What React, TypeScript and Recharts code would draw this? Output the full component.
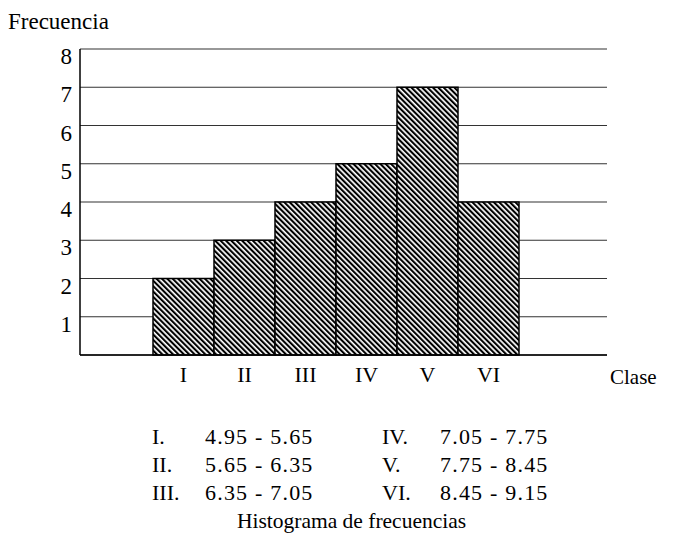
import React from 'react';
import { BarChart, Bar, XAxis, YAxis, CartesianGrid } from 'recharts';

const clases = ['I', 'II', 'III', 'IV', 'V', 'VI'];
const frecuencias = [2, 3, 4, 5, 7, 4];
const yTicks = [1, 2, 3, 4, 5, 6, 7, 8];
const etiquetas = ['I.', 'II.', 'III.', 'IV.', 'V.', 'VI.'];
const intervalos = ['4.95 - 5.65', '5.65 - 6.35', '6.35 - 7.05', '7.05 - 7.75', '7.75 - 8.45', '8.45 - 9.15'];

const data = clases.map((c, i) => ({ clase: c, frecuencia: frecuencias[i] }));

const SERIF = '"Liberation Serif", "DejaVu Serif", serif';

const YTick = (props: any) => {
  const { x, y, payload } = props;
  return <text x={x} y={y} dy={15} textAnchor="end" fontFamily={SERIF} fontSize={23} fill="#000">
      {payload.value}
    </text>;
};

const XTick = (props: any) => {
  const { x, y, payload } = props;
  return <text x={x} y={y} dy={19} textAnchor="middle" fontFamily={SERIF} fontSize={22} fill="#000">
      {payload.value}
    </text>;
};

const App = () => {
  const rowStyle: React.CSSProperties = { position: 'absolute', fontFamily: SERIF, fontSize: 22, color: '#000', whiteSpace: 'nowrap', lineHeight: '26px' };
  return <div style={{ position: 'absolute', left: 0, top: 0, width: 674, height: 547, background: '#fff' }}>
      <svg width={0} height={0} style={{ position: 'absolute' }}>
        <defs>
          <pattern id="hatch" patternUnits="userSpaceOnUse" width={3.8} height={3.8} patternTransform="rotate(-45)">
            <rect width={3.8} height={3.8} fill="#fff" />
            <rect width={2.1} height={3.8} fill="#000" />
          </pattern>
        </defs>
      </svg>
      <div style={{ ...rowStyle, left: 8, top: 9, fontSize: 23 }}>Frecuencia</div>
      <div style={{ position: 'absolute', left: 0, top: 0 }}>
        <BarChart width={674} height={400} data={data} margin={{ top: 49, right: 67, bottom: 15, left: 0 }} barCategoryGap={0}>
          <CartesianGrid vertical={false} stroke="#333" strokeWidth={1.2} yAxisId="l" />
          <XAxis dataKey="clase" height={30} padding={{ left: 73, right: 88 }} tickLine={false} axisLine={{ stroke: '#000', strokeWidth: 1.5 }} tick={<XTick />} interval={0} />
          <YAxis yAxisId="l" width={80} domain={[0, 8]} ticks={yTicks} tickLine={false} axisLine={{ stroke: '#000', strokeWidth: 1.5 }} tick={<YTick />} />
          <YAxis yAxisId="r" orientation="right" width={0} domain={[0, 8]} tick={false} tickLine={false} axisLine={{ stroke: '#111', strokeWidth: 1.2 }} />
          <Bar yAxisId="l" dataKey="frecuencia" fill="url(#hatch)" stroke="#000" strokeWidth={1.5} isAnimationActive={false} />
        </BarChart>
      </div>
      <div style={{ ...rowStyle, left: 610, top: 364, fontSize: 21 }}>Clase</div>
      {etiquetas.map((e, i) => {
      const col = Math.floor(i / 3);
      const row = i % 3;
      const top = 424 + row * 28;
      return <React.Fragment key={e}>
            <div style={{ ...rowStyle, left: col === 0 ? 152 : 382, top }}>{e}</div>
            <div style={{ ...rowStyle, left: col === 0 ? 205 : 440, top, letterSpacing: 1.2 }}>{intervalos[i]}</div>
          </React.Fragment>;
    })}
      <div style={{ ...rowStyle, left: 0, width: 703, textAlign: 'center', top: 508, fontSize: 21.5 }}>Histograma de frecuencias</div>
    </div>;
};

export default App;
